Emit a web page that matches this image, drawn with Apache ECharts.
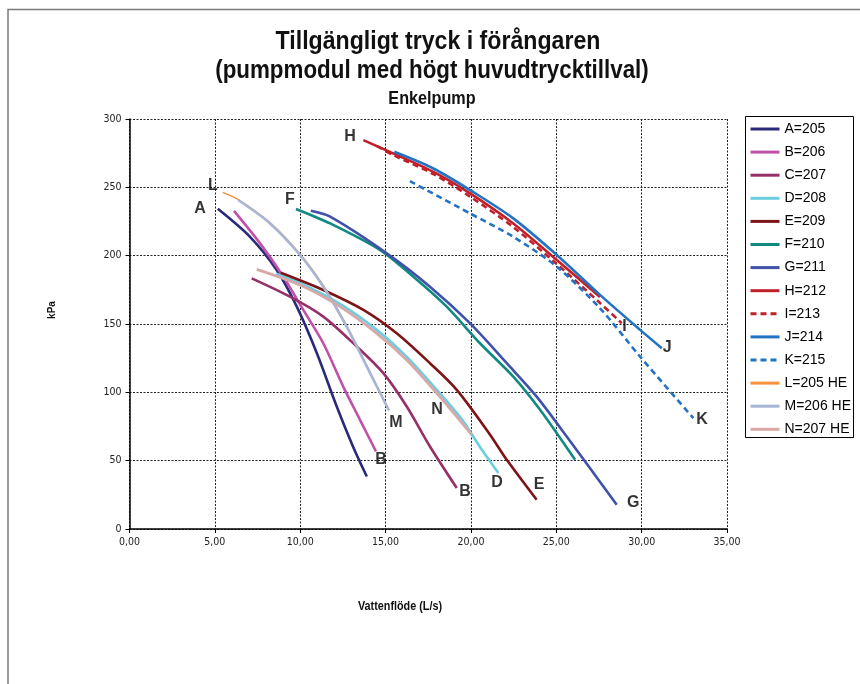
<!DOCTYPE html>
<html>
<head>
<meta charset="utf-8">
<script src="https://cdn.jsdelivr.net/npm/echarts@6/dist/echarts.min.js"></script>
<style>
html,body{margin:0;padding:0;background:#fff;}
#chart{width:860px;height:684px;}
</style>
</head>
<body>
<div id="chart"></div>
<script>
// Pump curves: [flow L/s, available pressure kPa]
const curveA = [[5.17,234.3],[7.06,213.8],[8.62,189.5],[9.80,162.7],[10.97,128.8],[12.14,89.6],[13.09,60.4],[13.90,38.4]];
const curveB = [[6.12,232.8],[7.65,209.0],[9.01,184.6],[10.18,160.3],[11.35,135.9],[12.52,104.2],[13.50,79.9],[14.44,56.7]];
const curveC = [[7.16,183.4],[9.40,170.0],[11.35,155.4],[13.31,133.5],[14.87,114.0],[16.24,89.6],[17.60,60.4],[19.17,30.0]];
const curveD = [[8.58,186.7],[9.99,180.0],[12.33,164.7],[14.48,145.7],[16.24,125.9],[18.00,101.8],[19.49,79.9],[20.53,60.0],[21.61,40.9]];
const curveE = [[8.86,187.5],[11.35,174.9],[13.70,160.3],[15.65,143.2],[17.60,121.3],[19.17,101.8],[21.12,69.0],[22.10,50.6],[23.85,21.4]];
const curveF = [[9.75,234.2],[11.75,223.6],[14.68,204.1],[16.63,184.6],[18.58,162.7],[20.53,135.9],[22.48,111.5],[24.05,87.2],[26.10,50.6]];
const curveG = [[10.62,232.8],[11.75,228.5],[15.07,201.7],[17.60,177.3],[19.94,150.6],[22.10,121.3],[23.85,96.9],[25.61,67.7],[28.54,17.8]];
const curveH = [[13.70,284.5],[15.45,274.8],[17.80,261.3],[19.95,245.6],[22.48,223.6],[25.03,196.8],[27.56,169.8]];
const curveI = [[14.50,280.2],[15.45,273.6],[17.80,259.7],[19.95,243.2],[22.48,220.9],[25.03,193.9],[27.56,165.4],[28.83,150.6]];
const curveJ = [[15.51,276.0],[17.80,263.8],[19.95,248.0],[22.48,227.3],[25.03,200.5],[27.56,171.3],[29.91,145.7],[31.18,132.3]];
const curveK = [[16.43,254.5],[19.95,230.9],[22.48,213.8],[25.03,191.9],[27.56,161.5],[29.91,126.1],[33.03,81.1]];
const curveL = [[5.46,246.3],[6.37,241.0],[8.23,224.2],[9.99,201.2],[11.35,178.2],[12.72,148.9],[13.90,119.7],[15.03,90.8]];
const curveM = [[6.37,240.7],[8.23,223.6],[9.99,200.5],[11.35,177.3],[12.72,148.1],[13.90,118.8],[15.20,86.7]];
const curveN = [[7.45,190.0],[9.99,178.5],[12.33,162.7],[14.48,143.2],[16.24,123.7],[18.00,99.4],[20.05,68.9]];

const seriesNames = ['A=205','B=206','C=207','D=208','E=209','F=210','G=211','H=212','I=213','J=214','K=215','L=205 HE','M=206 HE','N=207 HE'];
const seriesData = [curveA,curveB,curveC,curveD,curveE,curveF,curveG,curveH,curveI,curveJ,curveK,curveL,curveM,curveN];

// Letter tags placed next to curve ends
const tagText = ['H','L','A','F','M','N','B','B','D','E','G','I','J','K'];
const tagX    = [12.92,4.89,4.13,9.40,15.61,18.01,14.73,19.65,21.53,23.99,29.50,29.00,31.49,33.54];
const tagY    = [287.4,251.6,234.8,240.7,77.7,87.2,50.6,27.3,33.9,32.7,19.1,148.0,132.5,79.9];

const xTicks = [0,5,10,15,20,25,30,35];
const yTicks = [0,50,100,150,200,250,300];

const colors = ['#2b2a7a','#c050a8','#983068','#6ccde0','#7f1416','#108a80','#3f51a8','#c0202a','#c0202a','#2273c3','#2273c3','#f7923a','#a6b6d6','#d8a8a8'];
const dashed = [false,false,false,false,false,false,false,false,true,false,true,false,false,false];
const widths = [2.6,2.6,2.6,2.6,2.6,2.6,2.6,2.6,2.6,2.6,2.6,1.4,2.6,2.8];

const sansFont = "'Liberation Sans',Arial,sans-serif";

const series = seriesNames.map((name, i) => ({
  name: name,
  type: 'line',
  data: seriesData[i],
  smooth: 0.3,
  symbol: 'none',
  silent: true,
  color: colors[i],
  lineStyle: { color: colors[i], width: widths[i], type: dashed[i] ? [6, 4] : 'solid' }
}));

series.push({
  name: 'tags',
  type: 'scatter',
  symbolSize: 0,
  silent: true,
  z: 4,
  data: tagText.map((t, i) => ({ value: [tagX[i], tagY[i]], name: t })),
  label: {
    show: true,
    position: 'inside',
    formatter: p => p.name,
    color: '#000',
    fontFamily: sansFont,
    fontWeight: 'bold',
    fontSize: 16
  }
});

// narrow bold headings: regular sans squeezed horizontally
function heading(text, cx, cy, size, sx) {
  return {
    type: 'text', x: cx, y: cy, scaleX: sx, silent: true,
    style: { text: text, font: 'bold ' + size + 'px ' + sansFont, fill: '#111', align: 'center', verticalAlign: 'middle' }
  };
}

const chart = echarts.init(document.getElementById('chart'), null, { renderer: 'canvas' });
chart.setOption({
  animation: false,
  backgroundColor: '#fff',
  graphic: [
    { type: 'rect', shape: { x: 8, y: 9.5, width: 900, height: 720 }, style: { fill: 'none', stroke: '#7a7a7a', lineWidth: 1.5 }, silent: true },
    { type: 'rect', shape: { x: 745.5, y: 116.5, width: 108, height: 321 }, style: { fill: '#fff', stroke: '#000', lineWidth: 1 }, z: 5, silent: true },
    heading('Tillgängligt tryck i förångaren', 438, 42, 26, 0.89),
    heading('(pumpmodul med högt huvudtrycktillval)', 432, 71, 26, 0.86),
    heading('Enkelpump', 432, 99, 18, 0.9),
    heading('Vattenflöde (L/s)', 400, 607, 12, 0.9),
    {
      type: 'text', x: 52, y: 310, rotation: Math.PI / 2, silent: true,
      style: { text: 'kPa', font: 'bold 10px ' + sansFont, fill: '#111', align: 'center', verticalAlign: 'middle' }
    }
  ],
  legend: {
    data: seriesNames,
    orient: 'vertical',
    left: 749,
    top: 122,
    padding: 0,
    itemWidth: 29,
    itemHeight: 14,
    itemGap: 9.1,
    z: 6,
    selectedMode: false,
    itemStyle: { opacity: 0, color: 'rgba(0,0,0,0)', borderWidth: 0 },
    lineStyle: { width: 3 },
    textStyle: { color: '#000', fontSize: 14, lineHeight: 14, fontFamily: sansFont }
  },
  grid: { left: 129.5, right: 133, top: 119, bottom: 155, containLabel: false },
  xAxis: {
    type: 'value',
    min: xTicks[0],
    max: xTicks[xTicks.length - 1],
    interval: 5,
    axisLine: { show: true, onZero: false, lineStyle: { color: '#000', width: 1.5 } },
    axisTick: { show: true, length: 4, lineStyle: { color: '#000' } },
    axisLabel: { margin: 8, color: '#222', fontSize: 10.5, fontFamily: "'DejaVu Sans Condensed',sans-serif", formatter: v => v.toFixed(2).replace('.', ',') },
    splitLine: { show: true, lineStyle: { color: '#222', type: [2, 1.5], width: 1 } }
  },
  yAxis: {
    type: 'value',
    min: yTicks[0],
    max: yTicks[yTicks.length - 1],
    interval: 50,
    axisLine: { show: true, lineStyle: { color: '#000', width: 1.5 } },
    axisTick: { show: true, length: 4, lineStyle: { color: '#000' } },
    axisLabel: { margin: 8, color: '#222', fontSize: 10.5, fontFamily: "'DejaVu Sans Condensed',sans-serif" },
    splitLine: { show: true, lineStyle: { color: '#222', type: [2, 1.5], width: 1 } }
  },
  series: series
});
</script>
</body>
</html>
